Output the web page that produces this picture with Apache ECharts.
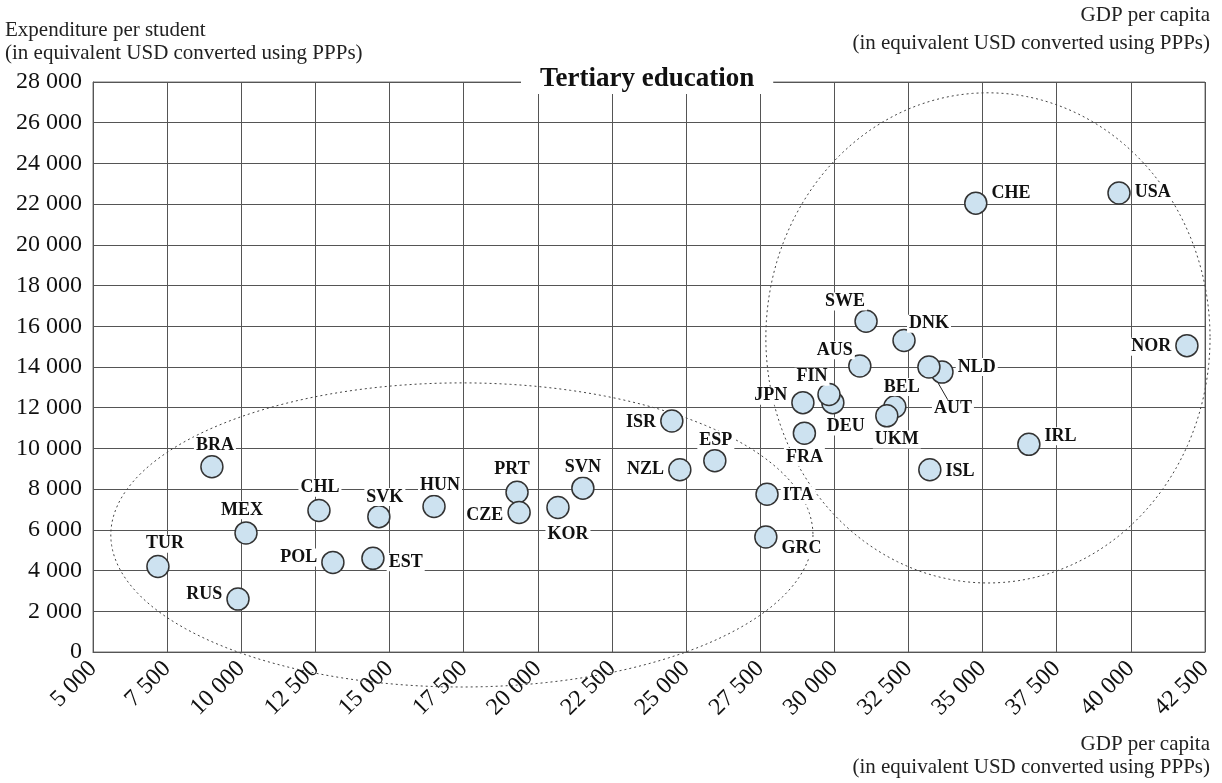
<!DOCTYPE html>
<html><head><meta charset="utf-8">
<script src="https://cdn.jsdelivr.net/npm/echarts@6/dist/echarts.min.js"></script>
<style>html,body{margin:0;padding:0;background:#fff}#c{width:1222px;height:783px}</style>
</head><body><div id="c"></div>
<script>
// ---- data ----
const countries = ['TUR','RUS','BRA','MEX','CHL','POL','EST','SVK','HUN','PRT','CZE','KOR','SVN','ISR','NZL','ESP','ITA','GRC','JPN','FRA','DEU','FIN','AUS','SWE','DNK','BEL','UKM','NLD','AUT','ISL','IRL','CHE','USA','NOR'];
const gdpPerCapita = [7190,9890,9010,10160,12620,13090,14440,14640,16500,19300,19370,20680,21520,24520,24790,25970,27730,27690,28940,28990,29950,29820,30860,31070,32350,32040,31770,33630,33190,33220,36560,34770,39600,41890];
const expenditurePerStudent = [4200,2600,9100,5850,6950,4400,4600,6650,7150,7850,6850,7100,8050,11350,8950,9400,7750,5650,12250,10750,12250,12650,14050,16250,15300,12050,11600,13750,14000,8950,10200,22050,22550,15050];
const xTickMin = 5000, xTickMax = 42500, xTickStep = 2500;
const yTickMin = 0, yTickMax = 28000, yTickStep = 2000;
// group outlines (dotted ellipses), in data units
const ellipseCenterX = [17440, 35180];
const ellipseCenterY = [5750, 15430];
const ellipseRadiusX = [11840, 7490];
const ellipseRadiusY = [7470, 12040];

// ---- label placement (layout only) ----
const labelPlace = {
 TUR:['top',7,0], BRA:['top',3,1], MEX:['top',-4,0], CHL:['top',1,0], SVK:['top',6,3], HUN:['top',6,2],
 RUS:['left',0,-5], POL:['left',0,-5], EST:['right',0,4], PRT:['top',-5,0], CZE:['left',0,3], SVN:['top',0,2],
 KOR:['bottom',10,4], ISR:['left',0,1], NZL:['left',0,0], ESP:['top',1,2], ITA:['right',0,1], GRC:['right',0,11],
 JPN:['left',0,-7], FRA:['bottom',0,1], FIN:['top',-17,5], DEU:['bottom',13,1], SWE:['top',-21,3], AUS:['top',-25,7],
 DNK:['top',25,6], BEL:['top',7,3], UKM:['bottom',10,1], AUT:['bottom',24,19], NLD:['right',0,-5], ISL:['right',0,2],
 IRL:['right',0,-8], CHE:['right',0,-10], USA:['right',0,-1], NOR:['left',0,1]
};

const SERIF = "'Liberation Serif','DejaVu Serif',serif";
const fmt = v => { const s = String(v); return s.length > 3 ? s.slice(0, s.length-3) + ' ' + s.slice(-3) : s; };

const points = countries.map((c, i) => {
  const p = labelPlace[c];
  const item = {
    name: c,
    value: [gdpPerCapita[i], expenditurePerStudent[i]],
    label: { position: p[0], offset: [p[1], p[2]] }
  };
  if (c === 'AUT') item.labelLine = { show: true, lineStyle: { color: '#222', width: 1 } };
  return item;
});

const ellipses = ellipseCenterX.map((x, i) => [x, ellipseCenterY[i], ellipseRadiusX[i], ellipseRadiusY[i]]);

const chart = echarts.init(document.getElementById('c'), null, { renderer: 'canvas' });
chart.setOption({
  animation: false,
  backgroundColor: '#fff',
  title: {
    text: 'Tertiary education', left: 521, top: 65,
    backgroundColor: '#fff', padding: [1, 19, 1, 19],
    textStyle: { fontFamily: SERIF, fontSize: 27, fontWeight: 'bold', color: '#111' }
  },
  graphic: [
    { type: 'text', left: 5, top: 19, style: { text: 'Expenditure per student\n(in equivalent USD converted using PPPs)', font: "21px 'Liberation Serif', serif", lineHeight: 23, fill: '#222' } },
    { type: 'text', right: 12, top: 1, style: { text: 'GDP per capita\n(in equivalent USD converted using PPPs)', font: "21px 'Liberation Serif', serif", lineHeight: 28, fill: '#222', textAlign: 'right' } },
    { type: 'text', right: 12, top: 733, style: { text: 'GDP per capita\n(in equivalent USD converted using PPPs)', font: "21px 'Liberation Serif', serif", lineHeight: 23, fill: '#222', textAlign: 'right' } }
  ],
  grid: { left: 93, right: 17, top: 82, bottom: 131, show: true, borderColor: '#777', borderWidth: 1 },
  xAxis: {
    type: 'value', min: xTickMin, max: xTickMax, interval: xTickStep,
    axisLine: { show: true, lineStyle: { color: '#555' } },
    axisTick: { show: false },
    splitLine: { show: true, lineStyle: { color: '#555', width: 1 } },
    axisLabel: { rotate: 45, margin: 13, formatter: fmt, fontFamily: SERIF, fontSize: 24, color: '#111' }
  },
  yAxis: {
    type: 'value', min: yTickMin, max: yTickMax, interval: yTickStep,
    axisLine: { show: true, lineStyle: { color: '#555' } },
    axisTick: { show: false },
    splitLine: { show: true, lineStyle: { color: '#555', width: 1 } },
    axisLabel: { margin: 11, formatter: fmt, fontFamily: SERIF, fontSize: 24, color: '#111' }
  },
  series: [
    {
      type: 'custom', z: 1, silent: true, clip: false,
      data: ellipses,
      renderItem: (params, api) => {
        const c = api.coord([api.value(0), api.value(1)]);
        const s = api.size([api.value(2), api.value(3)], [api.value(0), api.value(1)]);
        const pts = [];
        for (let k = 0; k <= 180; k++) { const t = k / 180 * 2 * Math.PI; pts.push([c[0] + s[0] * Math.cos(t), c[1] + s[1] * Math.sin(t)]); }
        return { type: 'polygon', shape: { points: pts }, style: { fill: null, stroke: '#444', lineWidth: 1, lineDash: [2, 3] } };
      }
    },
    {
      type: 'scatter', z: 3,
      symbol: 'circle', symbolSize: 22,
      itemStyle: { color: '#cde2f0', borderColor: '#333', borderWidth: 1.5, opacity: 1 },
      label: {
        show: true, formatter: '{b}', distance: 2,
        fontFamily: SERIF, fontSize: 18, fontWeight: 'bold', color: '#111',
        backgroundColor: '#fff', padding: [0, 2, 0, 2]
      },
      emphasis: { disabled: true },
      data: points
    }
  ]
});
</script>
</body></html>
